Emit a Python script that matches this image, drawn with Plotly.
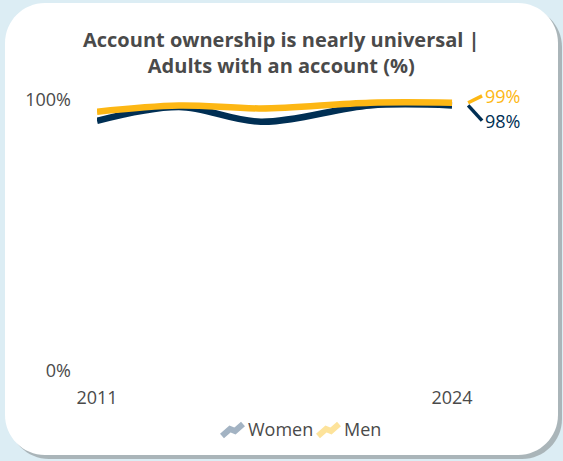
import plotly.graph_objects as go

# Survey years and share of adults with an account (%)
years = [2011, 2014, 2017, 2021, 2024]
women = [92.3, 97.4, 92.0, 98.0, 98.0]
men = [95.7, 98.0, 96.9, 99.0, 99.0]

series_names = ["Women", "Men"]
series_colors = ["#002f54", "#fdb714"]
legend_colors = ["#a3b3c3", "#fde39b"]
y_ticks = [0, 100]
x_ticks = [2011, 2024]

W, H = 563, 461
TEXT = "#4a4a4a"
FONT = "Open Sans"

# plot area in pixels: 2011 -> x=97, 2026 -> x=506.6 ; 0% -> y=371, 105% -> y=86.4
px_per_year = 27.31
px_per_pct = 2.71
x0_px, y0_px = 97.0, 371.0
x_range = [2011, 2026]
y_range = [0, 105]
x_dom = [x0_px / W, (x0_px + (x_range[1] - x_range[0]) * px_per_year) / W]
y_dom = [(H - y0_px) / H, (H - (y0_px - y_range[1] * px_per_pct)) / H]


def px(x):
    return x / W


def py(y):
    return 1 - y / H


def rounded_rect(x1, y1, x2, y2, r):
    k = 0.5523 * r
    pts = []
    pts.append(f"M{px(x1 + r)},{py(y1)}")
    pts.append(f"L{px(x2 - r)},{py(y1)}")
    pts.append(f"C{px(x2 - r + k)},{py(y1)} {px(x2)},{py(y1 + r - k)} {px(x2)},{py(y1 + r)}")
    pts.append(f"L{px(x2)},{py(y2 - r)}")
    pts.append(f"C{px(x2)},{py(y2 - r + k)} {px(x2 - r + k)},{py(y2)} {px(x2 - r)},{py(y2)}")
    pts.append(f"L{px(x1 + r)},{py(y2)}")
    pts.append(f"C{px(x1 + r - k)},{py(y2)} {px(x1)},{py(y2 - r + k)} {px(x1)},{py(y2 - r)}")
    pts.append(f"L{px(x1)},{py(y1 + r)}")
    pts.append(f"C{px(x1)},{py(y1 + r - k)} {px(x1 + r - k)},{py(y1)} {px(x1 + r)},{py(y1)}")
    pts.append("Z")
    return " ".join(pts)


fig = go.Figure()

values = [women, men]
# end-label placement: connector start/end (years) and vertical label offset (% units)
conn_x = [2024.59, 2025.1]
label_shift = [-5.6, 2.5]

for name, vals, col in zip(series_names, values, series_colors):
    fig.add_trace(go.Scatter(
        x=years, y=vals, mode="lines", name=name,
        line=dict(color=col, width=6.5, shape="spline", smoothing=1.0),
        hoverinfo="skip", showlegend=False,
    ))
for name, vals, col, shift in zip(series_names, values, series_colors, label_shift):
    end = vals[-1]
    fig.add_trace(go.Scatter(
        x=conn_x, y=[end, end + shift], mode="lines",
        line=dict(color=col, width=3.5), hoverinfo="skip", showlegend=False,
    ))
    fig.add_annotation(
        x=conn_x[1] + 0.03, y=end + shift, xref="x", yref="y",
        text=f"{end:.0f}%", showarrow=False, xanchor="left", yanchor="middle",
        font=dict(family=FONT, size=18, color=col),
    )

shapes = [
    dict(type="path", xref="paper", yref="paper", layer="below",
         path=rounded_rect(9, 7, 562, 459, 40), fillcolor="#aab5b9", line_width=0),
    dict(type="path", xref="paper", yref="paper", layer="below",
         path=rounded_rect(5, 3, 558, 455, 40), fillcolor="#ffffff", line_width=0),
]

# legend: small line-chart glyph followed by series name
legend_icon_x = [222, 318]
legend_text_x = [246, 342]
legend_y = 429
for name, col, ix, tx in zip(series_names, legend_colors, legend_icon_x, legend_text_x):
    pts = [(0, 7), (8, 0), (13, 2), (21, -5)]
    path = "M" + " L".join(f"{px(ix + a)},{py(legend_y + b)}" for a, b in pts)
    shapes.append(dict(type="path", xref="paper", yref="paper", path=path,
                       line=dict(color=col, width=6)))
    fig.add_annotation(
        x=px(tx), y=py(legend_y), xref="paper", yref="paper", text=name,
        showarrow=False, xanchor="left", yanchor="middle",
        font=dict(family=FONT, size=18, color=TEXT),
    )

title_text = "<b>Account ownership is nearly universal |<br>Adults with an account (%)</b>"
fig.add_annotation(
    x=px(281), y=py(52.5), xref="paper", yref="paper", text=title_text,
    showarrow=False, xanchor="center", yanchor="middle", align="center",
    font=dict(family=FONT, size=20, color=TEXT),
)

fig.update_layout(
    width=W, height=H,
    margin=dict(l=0, r=0, t=0, b=0, autoexpand=False),
    paper_bgcolor="#dcedf4",
    plot_bgcolor="rgba(0,0,0,0)",
    shapes=shapes,
    showlegend=False,
    xaxis=dict(domain=x_dom, range=x_range, tickvals=x_ticks, ticktext=[str(t) for t in x_ticks],
               showgrid=False, zeroline=False, showline=False, ticks="", automargin=False,
               ticklabelstandoff=14,
               tickfont=dict(family=FONT, size=18, color=TEXT), fixedrange=True),
    yaxis=dict(domain=y_dom, range=y_range, tickvals=y_ticks, ticktext=[f"{t}%" for t in y_ticks],
               showgrid=False, zeroline=False, showline=False, ticks="", automargin=False,
               ticklabelstandoff=25,
               tickfont=dict(family=FONT, size=18, color=TEXT), fixedrange=True),
)

fig.write_html("out.html")
